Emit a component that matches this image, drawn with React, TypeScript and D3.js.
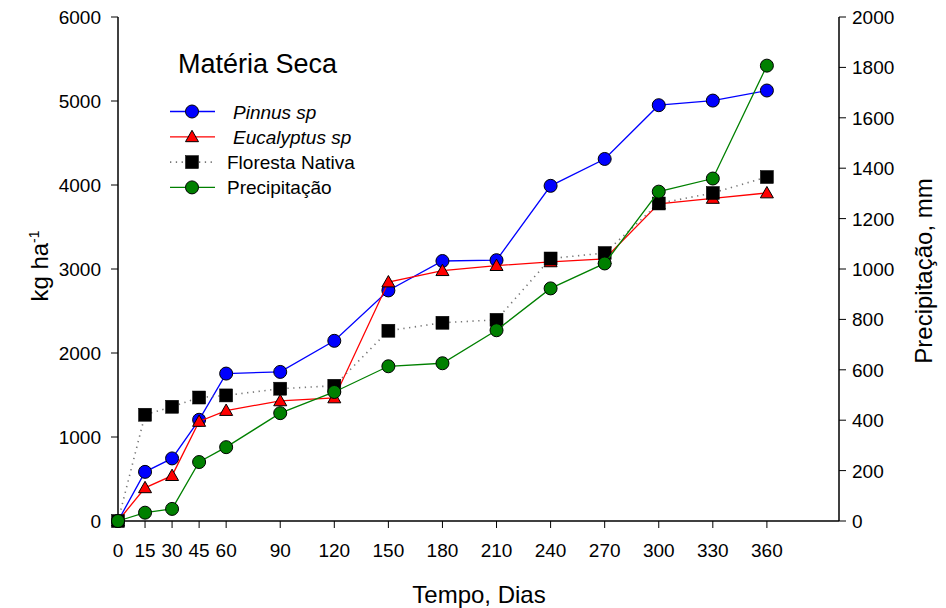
import React from 'react';
import * as d3 from 'd3';

// dias de coleta
const days = [0, 15, 30, 45, 60, 90, 120, 150, 180, 210, 240, 270, 300, 330, 360];

// materia seca, kg ha-1
const pinnus = [0, 585, 745, 1205, 1755, 1775, 2145, 2745, 3095, 3105, 3990, 4310, 4950, 5005, 5125];
const eucalyptus = [0, 395, 540, 1185, 1315, 1430, 1465, 2845, 2980, 3040, 3085, 3120, 3775, 3840, 3905];
const floresta = [0, 1265, 1360, 1470, 1495, 1575, 1610, 2265, 2360, 2395, 3125, 3190, 3780, 3905, 4095];

// precipitacao acumulada, mm
const precip = [0, 33, 48, 234, 293, 428, 512, 614, 626, 757, 923, 1022, 1307, 1359, 1807];

const xTicks = [0, 15, 30, 45, 60, 90, 120, 150, 180, 210, 240, 270, 300, 330, 360];
const leftTicks = [0, 1000, 2000, 3000, 4000, 5000, 6000];
const rightTicks = [0, 200, 400, 600, 800, 1000, 1200, 1400, 1600, 1800, 2000];

const W = 946;
const H = 608;
const FONT = '"Liberation Sans", Arial, sans-serif';

const x = d3.scaleLinear().domain([0, 400]).range([118, 839]);
const yL = d3.scaleLinear().domain([0, 6000]).range([521, 17]);
const yR = d3.scaleLinear().domain([0, 2000]).range([521, 17]);

type Marker = 'circle' | 'triangle' | 'square';

const drawMarker = (kind: Marker, cx: number, cy: number, fill: string, key: string | number) => {
  if (kind === 'circle') {
    return <circle key={key} cx={cx} cy={cy} r={6.5} fill={fill} stroke="#000" strokeWidth={1} />;
  }
  if (kind === 'triangle') {
    const s = 6.5;
    const pts = `${cx},${cy - s} ${cx + s},${cy + s * 0.75} ${cx - s},${cy + s * 0.75}`;
    return <polygon key={key} points={pts} fill={fill} stroke="#000" strokeWidth={1} />;
  }
  return <rect key={key} x={cx - 6.5} y={cy - 6.5} width={13} height={13} fill={fill} stroke="#000" strokeWidth={0.5} />;
};

const series = [
  { name: 'Pinnus sp', values: pinnus, y: yL, color: '#0000ff', fill: '#0000ff', marker: 'circle' as Marker, dash: undefined, italic: true },
  { name: 'Eucalyptus sp', values: eucalyptus, y: yL, color: '#ff0000', fill: '#ff0000', marker: 'triangle' as Marker, dash: undefined, italic: true },
  { name: 'Floresta Nativa', values: floresta, y: yL, color: '#777', fill: '#000', marker: 'square' as Marker, dash: '1.3,4.5', italic: false },
  { name: 'Precipitação', values: precip, y: yR, color: '#008000', fill: '#008000', marker: 'circle' as Marker, dash: undefined, italic: false },
];

export default function App() {
  return (
    <svg
      width={W}
      height={H}
      style={{ position: 'absolute', left: 0, top: 0, background: '#fff' }}
      fontFamily={FONT}
    >
      {/* axes */}
      <line x1={x(0)} x2={x(400)} y1={yL(0)} y2={yL(0)} stroke="#000" strokeWidth={1.5} />
      <line x1={x(0)} x2={x(0)} y1={yL(0)} y2={yL(6000)} stroke="#000" strokeWidth={1.5} />
      <line x1={x(400)} x2={x(400)} y1={yR(0)} y2={yR(2000)} stroke="#000" strokeWidth={1.5} />

      {xTicks.map((t) => (
        <g key={'x' + t}>
          <line x1={x(t)} x2={x(t)} y1={yL(0)} y2={yL(0) + 7} stroke="#000" strokeWidth={1} />
          <text x={x(t)} y={557} textAnchor="middle" fontSize={19}>{t}</text>
        </g>
      ))}
      {leftTicks.map((t) => (
        <g key={'l' + t}>
          <line x1={x(0) - 7} x2={x(0)} y1={yL(t)} y2={yL(t)} stroke="#000" strokeWidth={1} />
          <text x={101} y={yL(t) + 7} textAnchor="end" fontSize={19}>{t}</text>
        </g>
      ))}
      {rightTicks.map((t) => (
        <g key={'r' + t}>
          <line x1={x(400)} x2={x(400) + 7} y1={yR(t)} y2={yR(t)} stroke="#000" strokeWidth={1} />
          <text x={852} y={yR(t) + 7} textAnchor="start" fontSize={19}>{t}</text>
        </g>
      ))}

      {/* axis titles */}
      <text x={479} y={603} textAnchor="middle" fontSize={24}>Tempo, Dias</text>
      <text transform="translate(48,266) rotate(-90)" textAnchor="middle" fontSize={24}>
        kg ha<tspan dy={-9} fontSize={14}>-1</tspan>
      </text>
      <text transform="translate(932,271) rotate(-90)" textAnchor="middle" fontSize={24}>Precipitação, mm</text>

      {/* series */}
      {series.map((s) => {
        const line = d3
          .line<number>()
          .x((_, i) => x(days[i]))
          .y((v) => s.y(v));
        return (
          <g key={s.name}>
            <path d={line(s.values) || ''} fill="none" stroke={s.color} strokeWidth={s.dash ? 1.6 : 1.3} strokeDasharray={s.dash} />
            {s.values.map((v, i) => drawMarker(s.marker, x(days[i]), s.y(v), s.fill, i))}
          </g>
        );
      })}

      {/* legend */}
      <text x={178} y={73} fontSize={27}>Matéria Seca</text>
      {series.map((s, i) => {
        const ly = 111.5 + i * 25.3;
        return (
          <g key={'lg' + s.name}>
            <line x1={170} x2={215} y1={ly} y2={ly} stroke={s.color} strokeWidth={s.dash ? 1.6 : 1.3} strokeDasharray={s.dash} />
            {drawMarker(s.marker, 192, ly, s.fill, 'm')}
            <text x={s.italic ? 233 : 227} y={ly + 7} fontSize={19} fontStyle={s.italic ? 'italic' : 'normal'}>{s.name}</text>
          </g>
        );
      })}
    </svg>
  );
}
